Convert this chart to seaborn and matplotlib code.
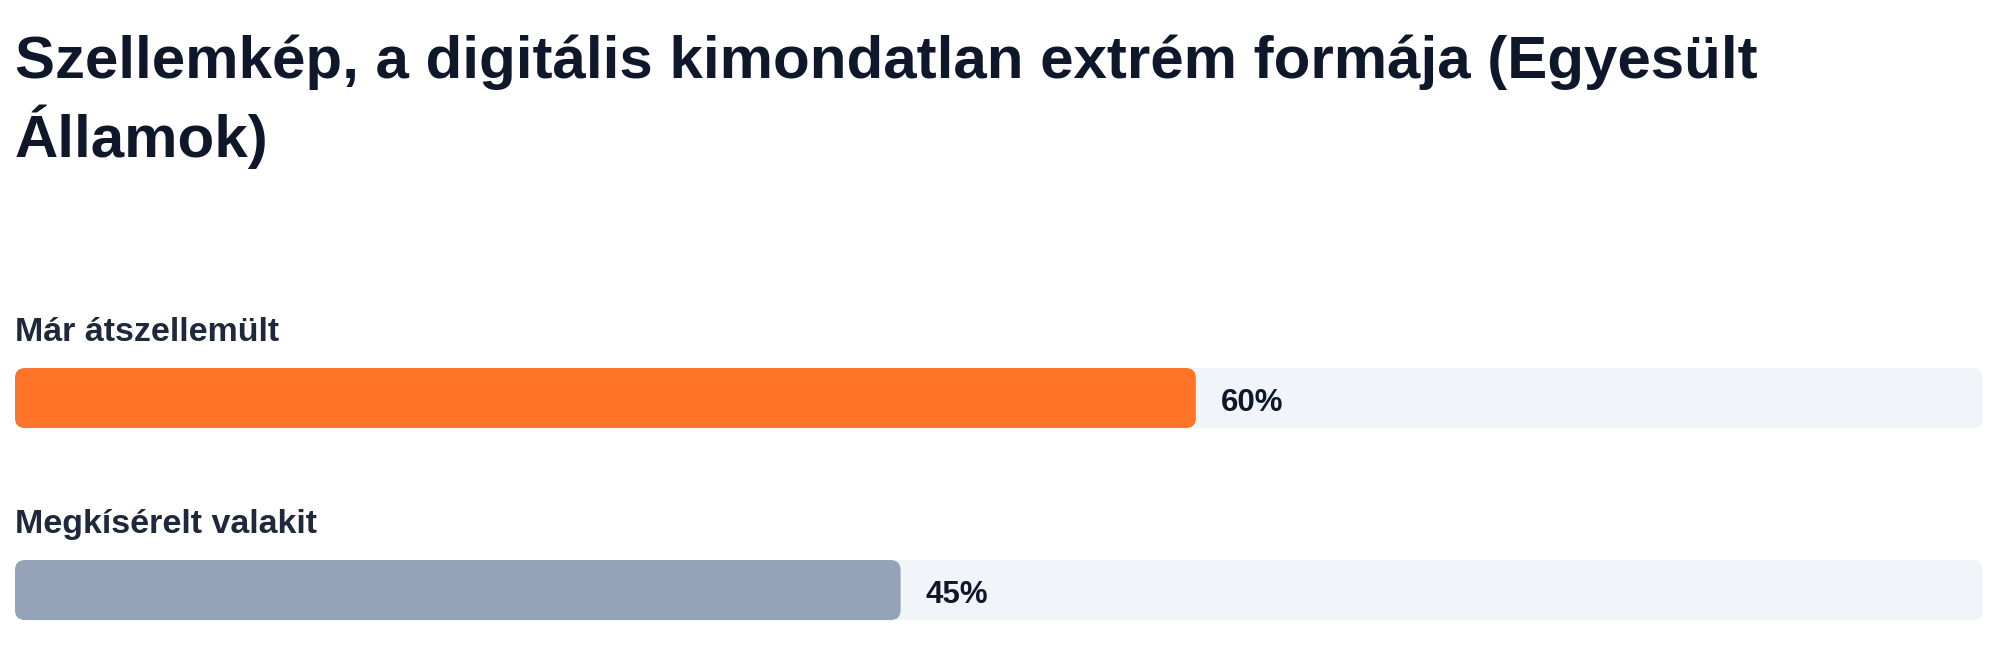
import matplotlib
matplotlib.use("Agg")
import matplotlib.pyplot as plt
import seaborn as sns
import pandas as pd
from matplotlib.patches import FancyBboxPatch

# ==============================================================================
# DADOS
# ==============================================================================
titulo = "Szellemkép, a digitális kimondatlan extrém formája (Egyesült\nÁllamok)"
categorias = ["Már átszellemült", "Megkísérelt valakit"]
valores = [60, 45]
rotulos = ["60%", "45%"]
maximo = [100, 100]
cores = ["#FF7426", "#94A3B8"]

# ==============================================================================
# ESTILO
# ==============================================================================
sns.set_theme(style="white")
plt.rcParams['font.family'] = ['Liberation Sans', 'DejaVu Sans']

fig = plt.figure(figsize=(20, 6.68), dpi=100)
ax = fig.add_axes([15 / 2000, 0, 1968 / 2000, 1])

base = pd.DataFrame({"categoria": categorias, "valor": valores, "maximo": maximo})

# trilho de fundo (100%) e barra do valor
sns.barplot(data=base, x="maximo", y="categoria", color="#F1F5F9", width=0.3125,
            orient="h", ax=ax, saturation=1)
sns.barplot(data=base, x="valor", y="categoria", hue="categoria", palette=cores,
            width=0.3125, orient="h", ax=ax, legend=False, saturation=1)

ax.set_xlim(0, 100)
ax.set_ylim(1.406, -2.073)
ax.axis("off")

# cantos arredondados: troca cada retângulo por um FancyBboxPatch
fig.canvas.draw()
(x0, y0), (x1, y1) = ax.transData.transform([(0, 0), (1, 1)])
px_x = abs(x1 - x0)
px_y = abs(y1 - y0)
raio = 10 / px_x
for p in list(ax.patches):
    caixa = FancyBboxPatch((p.get_x(), p.get_y()), p.get_width(), p.get_height(),
                           boxstyle=f"round,pad=0,rounding_size={raio}",
                           mutation_aspect=px_x / px_y,
                           facecolor=p.get_facecolor(), edgecolor="none",
                           zorder=p.get_zorder())
    p.remove()
    ax.add_patch(caixa)

# rótulos das categorias e dos valores
for i, (cat, v, rot) in enumerate(zip(categorias, valores, rotulos)):
    ax.annotate(cat, (0, i), xytext=(0, 47.5), textcoords="offset points",
                ha="left", va="center", fontsize=24.5, fontweight="bold", color="#1E293B")
    ax.annotate(rot, (v, i), xytext=(18, -3.5), textcoords="offset points",
                ha="left", va="center", fontsize=22.5, fontweight="bold", color="#0F172A")

fig.text(15 / 2000, 1 - 34 / 668, titulo, ha="left", va="top", fontsize=43.2,
         fontweight="bold", linespacing=1.28, color="#0F172A")

plt.savefig("out.png", dpi=100, facecolor="white")
